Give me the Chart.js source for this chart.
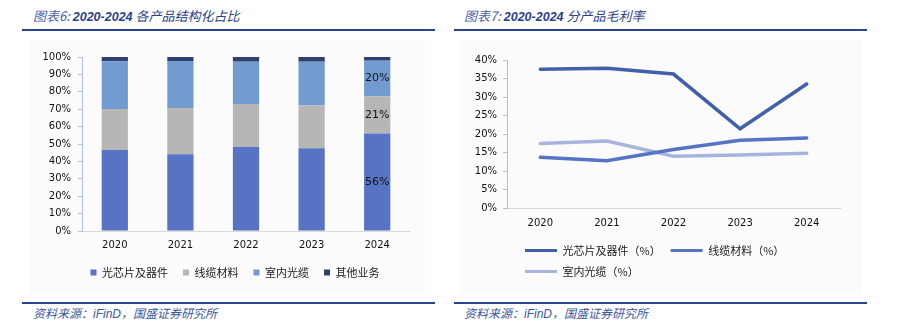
<!DOCTYPE html>
<html>
<head>
<meta charset="utf-8">
<script src="https://cdn.jsdelivr.net/npm/chart.js@4"></script>
<style>
body{margin:0;width:899px;height:327px;background:#fff;position:relative;overflow:hidden;font-family:"Noto Sans CJK SC",sans-serif;}
.title{position:absolute;top:6px;font-size:13px;font-style:italic;color:#2b3f8c;white-space:nowrap;}
.title b{font-family:"Liberation Sans",sans-serif;font-weight:bold;font-size:12.5px;}
.title span{color:#4b60a6;}
.rule{position:absolute;height:2px;background:#2a4494;}
.src{position:absolute;top:304px;font-size:12px;font-style:italic;color:#3d56a0;white-space:nowrap;}
.src i{font-family:"Liberation Sans",sans-serif;}
.bg{position:absolute;top:40px;height:255px;background:#fbfbfb;}
canvas{position:absolute;}
</style>
</head>
<body>
<div class="bg" style="left:30px;width:395px"></div>
<div class="bg" style="left:460px;width:402px"></div>

<div class="title" style="left:33px"><span>图表6:</span> <b>2020-2024</b> 各产品结构化占比</div>
<div class="rule" style="left:22px;width:413px;top:29px"></div>
<div class="title" style="left:464px"><span>图表7:</span> <b>2020-2024</b> 分产品毛利率</div>
<div class="rule" style="left:454px;width:413px;top:29px"></div>

<div style="position:absolute;left:0;top:40px;width:440px;height:260px"><canvas id="shareChart"></canvas></div>
<div style="position:absolute;left:450px;top:40px;width:420px;height:260px"><canvas id="marginChart"></canvas></div>

<div class="rule" style="left:22px;width:413px;top:302px"></div>
<div class="src" style="left:33px">资料来源：<i>iFinD</i>，国盛证券研究所</div>
<div class="rule" style="left:454px;width:413px;top:302px"></div>
<div class="src" style="left:464px">资料来源：<i>iFinD</i>，国盛证券研究所</div>

<script>
// data
const years = ["2020","2021","2022","2023","2024"];
const chipShare = [46.6, 44.1, 48.3, 47.5, 56.1];
const cableShare = [23.5, 26.6, 24.7, 24.7, 21.4];
const indoorShare = [27.4, 27.0, 24.3, 25.1, 20.4];
const otherShare = [2.5, 2.3, 2.7, 2.7, 2.1];
const shareNames = ["光芯片及器件","线缆材料","室内光缆","其他业务"];
const labelYear = "2024";

const chipMargin = [37.5, 37.8, 36.2, 21.4, 33.5];
const cableMargin = [13.7, 12.8, 15.8, 18.3, 18.9];
const indoorMargin = [17.4, 18.1, 14.0, 14.3, 14.8];
const marginNames = ["光芯片及器件（%）","线缆材料（%）","室内光缆（%）"];

const tickFont = {family:"DejaVu Sans", size:10};
const legendFont = {family:"Noto Sans CJK SC", size:11};
const axisBlue = "#b3bfe0";

// value labels inside the 2024 bar
const barLabels = {
  id:"barLabels",
  afterDatasetsDraw(chart){
    let ctx=chart.ctx, idx=years.indexOf(labelYear);
    ctx.save();
    ctx.font="11px DejaVu Sans"; ctx.fillStyle="#111";
    ctx.textAlign="center"; ctx.textBaseline="middle";
    for(let d=0; d<3; d++){
      let p=chart.getDatasetMeta(d).data[idx].getCenterPoint();
      ctx.fillText(Math.round(chart.data.datasets[d].data[idx])+"%", p.x, p.y);
    }
    ctx.restore();
  }
};

// nudge a legend sideways
const legendShift = {
  id:"legendShift",
  afterLayout(chart, args, opts){
    if(!opts.dx) return;
    chart.legend.left+=opts.dx; chart.legend.right+=opts.dx;
  }
};

new Chart(document.getElementById("shareChart"),{
  type:"bar",
  data:{
    labels:years,
    datasets:[
      {label:shareNames[0], data:chipShare, backgroundColor:"#5673c4"},
      {label:shareNames[1], data:cableShare, backgroundColor:"#b6b6b6"},
      {label:shareNames[2], data:indoorShare, backgroundColor:"#729ccf"},
      {label:shareNames[3], data:otherShare, backgroundColor:"#2f3f72"}
    ]
  },
  options:{
    responsive:true, maintainAspectRatio:false, animation:false,
    layout:{padding:{left:0, right:30, top:17, bottom:12}},
    datasets:{bar:{barPercentage:0.4, categoryPercentage:1, borderWidth:0}},
    scales:{
      x:{stacked:true, grid:{display:false, drawTicks:false}, border:{color:"#d9d9d9"},
        ticks:{font:tickFont, color:"#111", padding:8},
        afterFit(s){ s.height=21; }},
      y:{stacked:true, min:0, max:100,
        grid:{drawOnChartArea:false, drawTicks:true, tickLength:4, color:axisBlue},
        border:{color:axisBlue},
        ticks:{stepSize:10, font:tickFont, color:"#111", padding:7, callback:v=>v+"%"},
        afterFit(s){ s.width=82; }}
    },
    plugins:{
      legend:{position:"bottom", align:"center",
        labels:{boxWidth:6, boxHeight:6, padding:15, font:legendFont, color:"#222"}},
      legendShift:{dx:30},
      tooltip:{enabled:false}
    }
  },
  plugins:[barLabels, legendShift]
});

new Chart(document.getElementById("marginChart"),{
  type:"line",
  data:{
    labels:years,
    datasets:[
      {label:marginNames[0], data:chipMargin, borderColor:"#4260a9", backgroundColor:"#4260a9"},
      {label:marginNames[1], data:cableMargin, borderColor:"#5673c4", backgroundColor:"#5673c4"},
      {label:marginNames[2], data:indoorMargin, borderColor:"#a8b4dd", backgroundColor:"#a8b4dd"}
    ]
  },
  options:{
    responsive:true, maintainAspectRatio:false, animation:false,
    layout:{padding:{left:0, right:30, top:20, bottom:13}},
    elements:{line:{borderWidth:3.5, tension:0, borderCapStyle:"round"}, point:{radius:0}},
    scales:{
      x:{offset:true, grid:{display:false, drawTicks:false}, border:{color:"#d9d9d9"},
        ticks:{font:tickFont, color:"#111", padding:9},
        afterFit(s){ s.height=27; }},
      y:{min:0, max:40,
        grid:{drawOnChartArea:false, drawTicks:true, tickLength:4, color:axisBlue},
        border:{color:axisBlue},
        ticks:{stepSize:5, font:tickFont, color:"#111", padding:6, callback:v=>v+"%"},
        afterFit(s){ s.width=57; }}
    },
    plugins:{
      legend:{position:"bottom", align:"start", fullSize:false,
        labels:{boxWidth:32, boxHeight:3, padding:10, font:legendFont, color:"#222",
          generateLabels(chart){
            return Chart.defaults.plugins.legend.labels.generateLabels(chart).map(l=>Object.assign(l,{lineWidth:0}));
          }}},
      legendShift:{dx:8},
      tooltip:{enabled:false}
    }
  },
  plugins:[legendShift]
});
</script>
</body>
</html>
